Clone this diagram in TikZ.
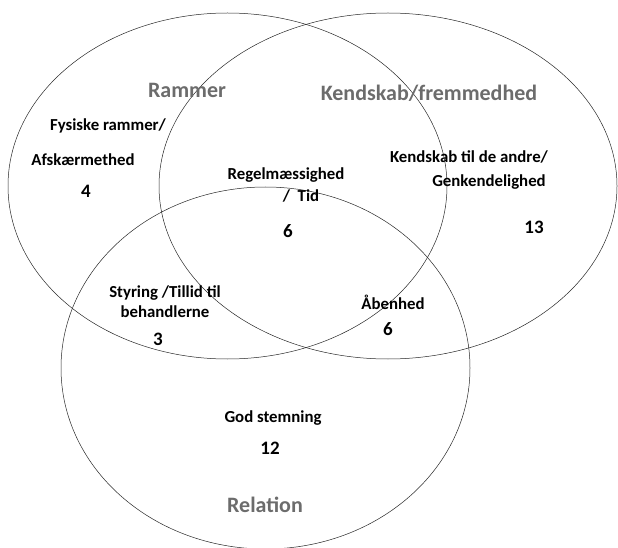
\documentclass[tikz,border=0pt]{standalone}
\usepackage{fontspec}
\setmainfont{Carlito}
\usepackage{tikz}
\usetikzlibrary{positioning}
\definecolor{titlegray}{RGB}{108,108,108}

\begin{document}
\begin{tikzpicture}[x=1pt,y=-1pt]
\tikzstyle{every node}+=[inner sep=0pt]
\tikzstyle{settitle}=[font=\fontsize{22}{26}\selectfont\bfseries, text=titlegray]
\tikzstyle{item}=[font=\fontsize{16.8}{19}\selectfont\bfseries, align=center]
\tikzstyle{count}=[font=\fontsize{19}{22}\selectfont\bfseries]
\useasboundingbox (0,0) rectangle (618,548);
\clip (0,0) rectangle (618,548);
% the three sets
\draw [black!85, line width=0.5pt] (227.5,186) ellipse (219.5 and 173);
\draw [black!85, line width=0.5pt] (388,186) ellipse (229 and 173);
\draw [black!85, line width=0.5pt] (265.5,368) ellipse (204.5 and 181);
% set titles
\node [settitle] (rammer) at (187,90) {Rammer};
\node [settitle] (kendskab) at (429,93) {Kendskab/fremmedhed};
\node [settitle] (relation) at (265,505) {Relation};
% Rammer only
\node [item] (fysiske) at (108,126) {Fysiske rammer/};
\node [item] (afsk) at (83,160) {Afsk\ae rmethed};
\node [count] (n4) at (86,191) {4};
% all three
\node [item] (regel) at (286,175) {Regelm\ae ssighed};
\node [item] (tid) at (301,196) {/~~Tid};
\node [count] (n6a) at (288,231) {6};
% Kendskab only
\node [item] (kendandre) at (469,157) {Kendskab til de andre/};
\node [item] (genk) at (489,182) {Genkendelighed};
\node [count] (n13) at (534,227) {13};
% Rammer and Relation
\node [item] (styring) at (165,293) {Styring /Tillid til};
\node [item] (behandl) at (165,312) {behandlerne};
\node [count] (n3) at (158,339) {3};
% Kendskab and Relation
\node [item] (aaben) at (393,302) {\AA benhed};
\node [count] (n6b) at (388,329) {6};
% Relation only
\node [item] (god) at (273,418) {God stemning};
\node [count] (n12) at (270,448) {12};
\end{tikzpicture}
\end{document}
